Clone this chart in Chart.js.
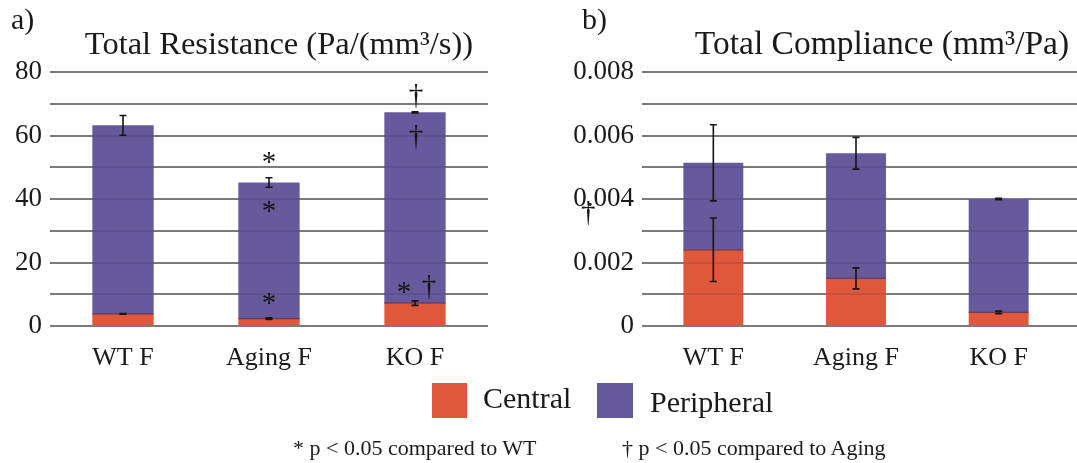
<!DOCTYPE html>
<html>
<head>
<meta charset="utf-8">
<script src="https://cdn.jsdelivr.net/npm/chart.js@4.4.1/dist/chart.umd.min.js"></script>
<style>
  html, body { margin: 0; padding: 0; background: #fff; }
  #wrap { position: relative; width: 1077px; height: 463px; overflow: hidden; background: #fff; }
  #wrap canvas { position: absolute; top: 0; }
  #cA { left: 0; }
  #cB { left: 540px; }
  #labels { position: absolute; left: 0; top: 0; pointer-events: none; }
  #labels text { font-family: 'Liberation Serif', 'Times New Roman', serif; fill: #1a1a1a; }
</style>
</head>
<body>
<div id="wrap">
  <canvas id="cA" width="540" height="370"></canvas>
  <canvas id="cB" width="537" height="370"></canvas>
  <svg id="labels" width="1077" height="463" xmlns="http://www.w3.org/2000/svg">
    <text x="11" y="29" font-size="30">a)</text>
    <text x="279" y="54" font-size="32.5" text-anchor="middle">Total Resistance (Pa/(mm³/s))</text>
    <text x="582" y="29" font-size="30">b)</text>
    <text x="882" y="54" font-size="33.5" text-anchor="middle">Total Compliance (mm³/Pa)</text>
    <rect x="432" y="383" width="35" height="35" fill="#e0583c"></rect>
    <text x="483" y="408" font-size="30">Central</text>
    <rect x="597" y="383" width="36" height="35" fill="#665a9c"></rect>
    <text x="650" y="412" font-size="30">Peripheral</text>
    <text x="293" y="455" font-size="22">* p &lt; 0.05 compared to WT</text>
    <text x="622" y="455" font-size="22">† p &lt; 0.05 compared to Aging</text>
  </svg>
</div>
<script>
// Groups on the x axis
const groups = ['WT F', 'Aging F', 'KO F'];

// Total resistance, split into central and peripheral parts (Pa/(mm^3/s))
const resistanceCentral = [3.8, 2.3, 7.2];
const resistancePeripheral = [59.4, 42.9, 60.1];
const resistanceCentralErr = [0.1, 0.25, 0.7];
const resistanceTotalErr = [3.1, 1.5, 0.2];
const resistanceTickLabels = ['0', '', '20', '', '40', '', '60', '', '80'];

// Total compliance, split into central and peripheral parts (mm^3/Pa)
const complianceCentral = [0.0024, 0.0015, 0.00043];
const compliancePeripheral = [0.00274, 0.00394, 0.00357];
const complianceCentralErr = [0.001, 0.00033, 0.00004];
const complianceTotalErr = [0.0012, 0.0005, 0.00002];
const complianceTickLabels = ['0', '', '0.002', '', '0.004', '', '0.006', '', '0.008'];

// Significance marks: group index, height in axis units, symbol
const resistanceMarks = [
  { group: 1, value: 53.2, symbol: '*' },
  { group: 1, value: 37.5, symbol: '*' },
  { group: 1, value: 8.8, symbol: '*' },
  { group: 2, value: 72.4, symbol: '†' },
  { group: 2, value: 59.5, symbol: '†' },
  { group: 2, value: 12.0, symbol: '*' },
  { group: 2, value: 12.3, symbol: '†' }
];
const resistanceMarkShift = [0, 0, 0, 1, 1, -11, 14];
const complianceMarks = [
  { group: 0, value: 0.00356, symbol: '†' }
];
const complianceMarkShift = [-125];

const SERIF = "'Liberation Serif', 'Times New Roman', serif";
const CENTRAL_FILL = '#e0583c';
const PERIPHERAL_FILL = '#665a9c';
const GRID = '#7b7b7b';

// Grid showing faintly through the bars, error bars (central part and stacked total)
// and significance symbols
const overlay = {
  id: 'overlay',
  beforeDatasetsDraw(chart, args, opts) {
    if (!opts.extendGrid) return;
    const { ctx, chartArea, scales: { y } } = chart;
    ctx.save();
    ctx.strokeStyle = GRID;
    ctx.lineWidth = 2;
    y.ticks.forEach((t, i) => {
      const py = Math.round(y.getPixelForTick(i));
      ctx.beginPath();
      ctx.moveTo(chartArea.right, py);
      ctx.lineTo(chart.width, py);
      ctx.stroke();
    });
    ctx.restore();
  },
  afterDatasetsDraw(chart, args, opts) {
    const { ctx, scales: { x, y } } = chart;
    ctx.save();

    // faint grid lines across the bar bodies
    ctx.strokeStyle = 'rgba(40, 30, 60, 0.13)';
    ctx.lineWidth = 2;
    chart.data.datasets.forEach((ds, di) => {
      chart.getDatasetMeta(di).data.forEach(el => {
        const { x: bx, y: by, base, width } = el.getProps(['x', 'y', 'base', 'width'], true);
        const top = Math.min(by, base), bot = Math.max(by, base);
        y.ticks.forEach((t, i) => {
          const py = Math.round(y.getPixelForTick(i));
          if (py > top + 1 && py < bot - 1) {
            ctx.beginPath();
            ctx.moveTo(bx - width / 2, py);
            ctx.lineTo(bx + width / 2, py);
            ctx.stroke();
          }
        });
      });
    });

    // dark seam between the central and peripheral parts
    ctx.strokeStyle = 'rgba(90, 40, 80, 0.8)';
    ctx.lineWidth = 1.2;
    chart.getDatasetMeta(0).data.forEach(el => {
      const { x: bx, y: by, width } = el.getProps(['x', 'y', 'width'], true);
      ctx.beginPath();
      ctx.moveTo(bx - width / 2, by);
      ctx.lineTo(bx + width / 2, by);
      ctx.stroke();
    });

    ctx.strokeStyle = '#151515';
    ctx.lineWidth = 1.6;
    const cap = 3.5;
    const bar = (cx, v, e) => {
      const top = y.getPixelForValue(v + e);
      const bot = y.getPixelForValue(v - e);
      ctx.beginPath();
      ctx.moveTo(cx, top); ctx.lineTo(cx, bot);
      ctx.moveTo(cx - cap, top); ctx.lineTo(cx + cap, top);
      ctx.moveTo(cx - cap, bot); ctx.lineTo(cx + cap, bot);
      ctx.stroke();
    };
    opts.central.forEach((c, i) => {
      const cx = x.getPixelForValue(i);
      bar(cx, c, opts.centralErr[i]);
      bar(cx, c + opts.peripheral[i], opts.totalErr[i]);
    });

    ctx.fillStyle = '#151515';
    ctx.font = '29px ' + SERIF;
    ctx.textAlign = 'center';
    ctx.textBaseline = 'alphabetic';
    opts.marks.forEach((m, i) => {
      const px = x.getPixelForValue(m.group) + opts.markShift[i];
      const py = y.getPixelForValue(m.value);
      const mt = ctx.measureText(m.symbol);
      const off = (mt.actualBoundingBoxAscent - mt.actualBoundingBoxDescent) / 2;
      ctx.fillText(m.symbol, px, py + off);
    });
    ctx.restore();
  }
};

function makeChart(id, central, peripheral, centralErr, totalErr, maxV, step, tickLabels,
                   marks, markShift, axisWidth, rightPad, extendGrid) {
  return new Chart(document.getElementById(id), {
    type: 'bar',
    data: {
      labels: groups,
      datasets: [
        { label: 'Central', data: central, backgroundColor: CENTRAL_FILL,
          borderWidth: 0, categoryPercentage: 1, barPercentage: 0.42 },
        { label: 'Peripheral', data: peripheral, backgroundColor: PERIPHERAL_FILL,
          borderWidth: 0, categoryPercentage: 1, barPercentage: 0.42 }
      ]
    },
    options: {
      responsive: false,
      animation: false,
      events: [],
      layout: { padding: { top: 72, right: rightPad, left: 0, bottom: 0 } },
      plugins: {
        legend: { display: false },
        title: { display: false },
        tooltip: { enabled: false },
        overlay: { central, peripheral, centralErr, totalErr, marks, markShift, extendGrid }
      },
      scales: {
        x: {
          stacked: true,
          grid: { display: false },
          border: { display: false },
          ticks: { color: '#1a1a1a', font: { family: SERIF, size: 26 }, padding: 9 },
          afterFit(scale) { scale.height = 44; }
        },
        y: {
          stacked: true,
          min: 0,
          max: maxV,
          grid: { color: GRID, lineWidth: 2, drawTicks: false },
          border: { display: false },
          ticks: {
            stepSize: step,
            autoSkip: false,
            padding: 8,
            color: '#1a1a1a',
            font: { family: SERIF, size: 27 },
            callback: (v, i) => tickLabels[i]
          },
          afterFit(scale) { scale.width = axisWidth; }
        }
      }
    },
    plugins: [overlay]
  });
}

makeChart('cA', resistanceCentral, resistancePeripheral, resistanceCentralErr, resistanceTotalErr,
          80, 10, resistanceTickLabels, resistanceMarks, resistanceMarkShift, 50, 52, false);
makeChart('cB', complianceCentral, compliancePeripheral, complianceCentralErr, complianceTotalErr,
          0.008, 0.001, complianceTickLabels, complianceMarks, complianceMarkShift, 102, 7, true);
</script>
</body>
</html>
